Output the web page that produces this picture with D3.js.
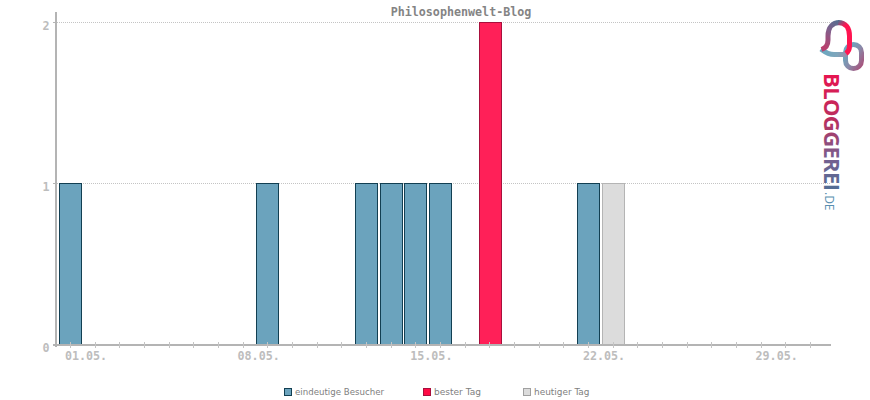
<!DOCTYPE html>
<html><head><meta charset="utf-8">
<script src="https://cdn.jsdelivr.net/npm/d3@7/dist/d3.min.js"></script>
<style>html,body{margin:0;padding:0;background:#fff}svg{display:block}</style></head>
<body><svg id="c" width="870" height="400"></svg>
<script>
const chartTitle = "Philosophenwelt-Blog";
const days = d3.range(0, 31);
const uniqueVisitorDays = [0, 8, 12, 13, 14, 15, 21];
const uniqueVisitorValues = [1, 1, 1, 1, 1, 1, 1];
const bestDays = [17];
const bestValues = [2];
const todayDays = [22];
const todayValues = [1];
const yTicks = [0, 1, 2];
const xTickDays = [0, 7, 14, 21, 28];
const xTickLabels = ["01.05.", "08.05.", "15.05.", "22.05.", "29.05."];
const legendLabels = ["eindeutige Besucher", "bester Tag", "heutiger Tag"];

const svg = d3.select("#c");
const x = d3.scaleBand().domain(days).range([58.65, 822.87]).paddingInner(0.06).paddingOuter(0);
const tickX = d3.scaleLinear().domain([0, 30]).range([70.5, 810.5]);
const y = d3.scaleLinear().domain([0, 2]).range([344.4, 22.4]);
const mono = "'DejaVu Sans Mono', monospace";

// gridlines
svg.append("g").selectAll("line").data([1, 2]).join("line")
  .attr("x1", 57).attr("x2", 830)
  .attr("y1", d => Math.floor(y(d)) + 0.5).attr("y2", d => Math.floor(y(d)) + 0.5)
  .attr("stroke", "#c4c4c4").attr("stroke-dasharray", "1 1");

// bars
function bars(ds, vs, fill, stroke) {
  svg.append("g").selectAll("rect").data(ds.map((d, i) => [d, vs[i]])).join("rect")
    .attr("x", d => Math.round(x(d[0])) + 0.5)
    .attr("y", d => Math.floor(y(d[1])) + 0.5)
    .attr("width", 22)
    .attr("height", d => Math.floor(y(0)) - Math.floor(y(d[1])) + 1)
    .attr("fill", fill).attr("stroke", stroke).attr("stroke-width", 1);
}
bars(uniqueVisitorDays, uniqueVisitorValues, "#6ba3bd", "#123f52");
bars(bestDays, bestValues, "#ff2058", "#a80f3c");
bars(todayDays, todayValues, "#dcdcdc", "#b4b4b4");

// axes
const axisCol = "#b4b4b4";
svg.append("line").attr("x1", 56).attr("x2", 56).attr("y1", 12).attr("y2", 347).attr("stroke", axisCol).attr("stroke-width", 2);
svg.append("line").attr("x1", 53).attr("x2", 831).attr("y1", 345).attr("y2", 345).attr("stroke", axisCol).attr("stroke-width", 2);
svg.append("g").selectAll("line").data(days).join("line")
  .attr("x1", d => Math.floor(tickX(d)) + 0.5)
  .attr("x2", d => Math.floor(tickX(d)) + 0.5)
  .attr("y1", 342).attr("y2", 348).attr("stroke", "#c4c4c4");
svg.append("g").selectAll("line").data(yTicks).join("line")
  .attr("x1", 53).attr("x2", 56)
  .attr("y1", d => Math.floor(y(d)) + 0.5).attr("y2", d => Math.floor(y(d)) + 0.5)
  .attr("stroke", axisCol);

const tickText = s => s.attr("font-family", mono).attr("font-size", 11.7).attr("font-weight", "bold").attr("fill", "#bdbdbd");
svg.append("g").selectAll("text").data(xTickDays).join("text").call(tickText)
  .attr("x", d => tickX(d) + 15.5).attr("y", 360).attr("text-anchor", "middle")
  .text((d, i) => xTickLabels[i]);
svg.append("g").selectAll("text").data(yTicks).join("text").call(tickText)
  .attr("x", 49.5).attr("y", d => y(d) + 7.5).attr("text-anchor", "end").text(d => d);

svg.append("text").attr("x", 461).attr("y", 16).attr("text-anchor", "middle")
  .attr("font-family", mono).attr("font-size", 11.7).attr("font-weight", "bold").attr("fill", "#848484").text(chartTitle);

// legend
const legendX = [284, 423, 523];
const legendLen = [89, 47, 55.5];
const legendFill = ["#6ba3bd", "#ff0a45", "#dcdcdc"];
const legendStroke = ["#123f52", "#a80f3c", "#a0a0a0"];
const lg = svg.append("g");
legendLabels.forEach((t, i) => {
  lg.append("rect").attr("x", legendX[i] + 0.5).attr("y", 388.5).attr("width", 7).attr("height", 7)
    .attr("fill", legendFill[i]).attr("stroke", legendStroke[i]);
  lg.append("text").attr("x", legendX[i] + 11).attr("y", 395).attr("font-family", "'DejaVu Sans', sans-serif")
    .attr("font-size", 9).attr("textLength", legendLen[i]).attr("lengthAdjust", "spacingAndGlyphs")
    .attr("fill", "#808080").text(t);
});

// logo
const defs = svg.append("defs");
function grad(id, a, b, stops) {
  const g = defs.append("linearGradient").attr("id", id).attr("gradientUnits", "userSpaceOnUse")
    .attr("x1", a[0]).attr("y1", a[1]).attr("x2", b[0]).attr("y2", b[1]);
  stops.forEach(s => g.append("stop").attr("offset", s[0]).attr("stop-color", s[1]));
}
grad("gt", [0, 0], [119, 0], [[0, "#e8144f"], [0.4, "#b8305f"], [0.72, "#75608f"], [1, "#4f6f95"]]);
grad("ga", [822, 50], [848, 54], [[0, "#6aa8c0"], [0.6, "#7fa5bb"], [1, "#9a8aa8"]]);
grad("gb", [826, 48], [842, 21], [[0, "#b8406e"], [0.55, "#80608c"], [1, "#4f6f90"]]);
grad("gc", [838, 21], [851, 34], [[0, "#4f6f90"], [0.45, "#ff1450"], [1, "#ff1450"]]);
grad("gr", [845, 52], [864, 64], [[0, "#6aa8c0"], [0.5, "#8a88a8"], [1, "#a8507a"]]);
const logoLine = (d, id) => svg.append("path").attr("d", d).attr("fill", "none")
  .attr("stroke", `url(#${id})`).attr("stroke-width", 5);
svg.append("rect").attr("x", 845.5).attr("y", 44.5).attr("width", 16).attr("height", 24).attr("rx", 8)
  .attr("fill", "none").attr("stroke", "url(#gr)").attr("stroke-width", 5);
logoLine("M821 49 C825 52 828 54.5 834 54.5 L847 54.5", "ga");
logoLine("M821.5 49.5 C826 48 828 45 828 40 L828 36 C828 27 833 22.5 839.5 22.5", "gb");
logoLine("M838 22.5 C846 22.5 849.5 28 849.5 36 L849.5 46 C849.5 49.5 848 52 846 53.5", "gc");
svg.append("text").attr("transform", "translate(824,73) rotate(90)").attr("font-family", "'Open Sans', sans-serif").attr("font-weight", 700)
  .attr("font-size", 22).attr("textLength", 118).attr("lengthAdjust", "spacing").attr("fill", "url(#gt)").text("BLOGGEREI");
svg.append("text").attr("transform", "translate(825,192) rotate(90)").attr("font-family", "'Open Sans', sans-serif")
  .attr("font-size", 12).attr("fill", "#5a8fb0").text(".DE");
</script></body></html>
